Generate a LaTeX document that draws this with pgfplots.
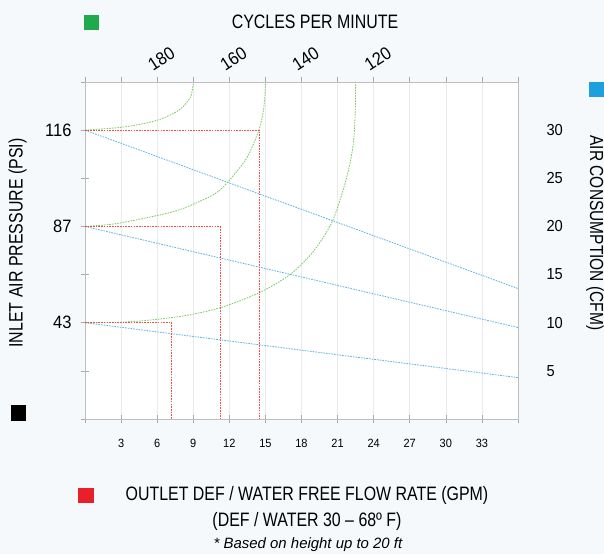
\documentclass[border=0pt]{standalone}
\usepackage{pgfplots}
\pgfplotsset{compat=1.18}
\usepackage{fontspec}
\setmainfont[FakeStretch=0.82]{Liberation Sans}
\newfontfamily\numfont[FakeStretch=0.92]{Liberation Sans}
\newfontfamily\plainfont{Liberation Sans}

\definecolor{bgcol}{RGB}{246,249,251}
\definecolor{cpm}{RGB}{125,200,100}
\definecolor{gpm}{RGB}{240,80,70}
\definecolor{cfm}{RGB}{90,180,225}
\definecolor{greensq}{RGB}{31,170,75}
\definecolor{bluesq}{RGB}{30,160,220}
\definecolor{redsq}{RGB}{232,32,42}

\begin{document}
\begin{tikzpicture}
\fill[bgcol] (-85bp,-135bp) rectangle (519bp,419bp);
\useasboundingbox (-85bp,-135bp) rectangle (519bp,419bp);

% main axis: flow rate (bottom), inlet pressure (left)
\begin{axis}[
    at={(0,0)}, anchor=south west,
    scale only axis, width=433bp, height=337bp,
    xmin=0, xmax=36, ymin=0, ymax=7,
    axis background/.style={fill=white},
    axis line style={draw={rgb,255:red,190;green,190;blue,190}, line width=0.8bp},
    xtick={0,3,...,36},
    xticklabels={,3,6,9,12,15,18,21,24,27,30,33,},
    ytick={0,1,...,7},
    yticklabels={,,43,,87,,116,},
    xtick pos=left, ytick pos=left,
    tick align=center, major tick length=8bp,
    tick style={draw={rgb,255:red,170;green,170;blue,170}, line width=0.6bp},
    xmajorgrids, major grid style={draw={rgb,255:red,232;green,234;blue,236}, line width=0.6bp},
    /pgf/number format/assume math mode=true,
    xticklabel style={font=\numfont\fontsize{12}{12}\selectfont, yshift=-13bp},
    yticklabel style={font=\numfont\fontsize{18}{18}\selectfont, xshift=-6bp},
    every axis plot/.append style={line width=0.8bp, dash pattern=on 1.6bp off 1.1bp},
]
% air consumption
\addplot[cfm] coordinates {(0,6) (36,2.71)};
\addplot[cfm] coordinates {(0,4) (36,1.90)};
\addplot[cfm] coordinates {(0,2) (36,0.86)};
% cycles per minute
\addplot[cpm, smooth] coordinates {
    (0,6) (3.05,6.06) (5.13,6.15) (6.51,6.25) (7.9,6.43) (8.73,6.67) (8.96,6.88) (9,7)};
\addplot[cpm, smooth] coordinates {
    (0,4) (2.35,4.05) (5.13,4.18) (7.9,4.35) (10.67,4.66) (11.86,4.92)
    (13.44,5.42) (14.46,6.0) (14.82,6.39) (14.97,6.75) (15,7)};
\addplot[cpm, smooth] coordinates {
    (0,2) (3.74,2.02) (7.9,2.13) (11.22,2.31) (14.46,2.62) (17.04,3.0)
    (18.98,3.48) (20.59,4.12) (21.75,5.01) (22.3,5.7) (22.47,6.4) (22.5,7)};
% outlet flow rate
\addplot[gpm] coordinates {(0,6) (14.46,6) (14.46,0)};
\addplot[gpm] coordinates {(0,4) (11.22,4) (11.22,0)};
\addplot[gpm] coordinates {(0,2) (7.2,2) (7.2,0)};
\end{axis}

% cycles per minute (top), air consumption (right)
\begin{axis}[
    at={(0,0)}, anchor=south west,
    scale only axis, width=433bp, height=337bp,
    xmin=0, xmax=36, ymin=0, ymax=7,
    axis x line*=top, axis y line*=right,
    axis line style={-, draw={rgb,255:red,190;green,190;blue,190}, line width=0.8bp},
    xtick={0,3,...,36},
    xticklabels={,,180,,160,,140,,120,,,,},
    ytick={1,...,6},
    yticklabels={5,10,15,20,25,30},
    tick align=outside, major tick length=5bp,
    xtick style={draw={rgb,255:red,170;green,170;blue,170}, line width=0.6bp},
    ytick style={draw=none},
    xticklabel style={font=\numfont\fontsize{18}{18}\selectfont, rotate=33, anchor=south west, xshift=-4bp, yshift=3bp},
    yticklabel style={font=\numfont\fontsize{16}{16}\selectfont, xshift=20bp},
]
\end{axis}

\node[fill=greensq, minimum size=15bp, inner sep=0pt] at (6.5bp,396bp) {};
\node[font=\fontsize{19.5}{22}\selectfont] at (230bp,397bp) {CYCLES PER MINUTE};
\node[rotate=90, font=\fontsize{19.5}{22}\selectfont] at (-67.5bp,176bp) {INLET AIR PRESSURE (PSI)};
\node[fill=black, minimum size=15bp, inner sep=0pt] at (-66.7bp,6bp) {};
\node[fill=bluesq, minimum size=15bp, inner sep=0pt] at (511bp,329.5bp) {};
\node[rotate=-90, font=\fontsize{19}{22}\selectfont] at (510bp,186bp) {AIR CONSUMPTION (CFM)};
\node[fill=redsq, minimum size=15bp, inner sep=0pt] at (1bp,-76.5bp) {};
\node[font=\fontsize{19.5}{22}\selectfont] at (222bp,-76bp) {OUTLET DEF / WATER FREE FLOW RATE (GPM)};
\node[font=\fontsize{19.5}{22}\selectfont] at (222bp,-102bp) {(DEF / WATER 30 – 68º F)};
\node[font=\plainfont\itshape\fontsize{15}{16}\selectfont] at (223bp,-126bp) {* Based on height up to 20 ft};
\end{tikzpicture}
\end{document}
